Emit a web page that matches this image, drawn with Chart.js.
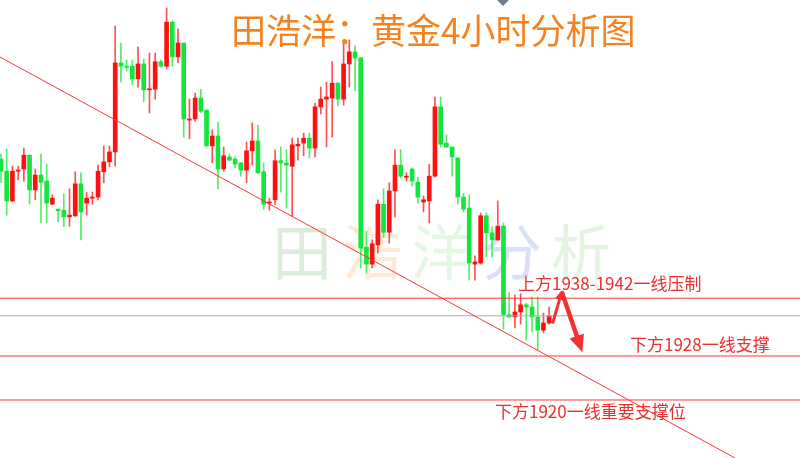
<!DOCTYPE html>
<html><head><meta charset="utf-8">
<script src="https://cdn.jsdelivr.net/npm/chart.js@4/dist/chart.umd.min.js"></script>
<style>html,body{margin:0;padding:0;background:#fff}#wrap{width:800px;height:458px;position:relative}</style>
</head><body><div id="wrap"><canvas id="c"></canvas></div>
<script>
// ---- data (gold 4h candles) ----
const opens  = [1963.8,1961.6,1956.2,1961.6,1962.0,1964.5,1958.2,1960.9,1959.8,1955.6,1954.7,1954.5,1953.3,1953.5,1959.3,1955.8,1956.7,1956.9,1961.5,1963.3,1965.1,1981.3,1980.7,1980.7,1978.4,1981.1,1976.4,1976.5,1981.5,1980.7,1988.7,1982.4,1984.9,1970.9,1971.1,1974.9,1972.7,1966.2,1968.0,1962.0,1964.2,1963.8,1963.1,1961.8,1965.3,1967.1,1961.5,1955.8,1956.4,1963.5,1963.1,1962.5,1966.2,1966.7,1967.6,1965.8,1973.3,1974.7,1974.9,1977.6,1974.7,1981.1,1983.3,1982.2,1947.8,1944.7,1948.2,1955.6,1950.5,1958.0,1962.7,1960.5,1962.0,1959.6,1956.0,1956.2,1960.7,1973.3,1966.7,1966.0,1964.0,1956.9,1954.9,1944.7,1944.9,1953.5,1950.4,1949.1,1951.6,1935.5,1935.1,1936.0,1937.3,1936.9,1935.1,1932.7,1934.0];
const highs  = [1964.7,1965.6,1962.5,1962.5,1965.8,1964.6,1962.0,1964.7,1962.9,1957.3,1954.7,1957.5,1958.4,1961.5,1961.3,1957.8,1957.8,1962.7,1966.2,1966.2,1988.0,1984.9,1981.8,1981.8,1984.2,1982.0,1983.1,1983.1,1981.8,1991.3,1988.9,1987.5,1984.9,1974.7,1975.8,1976.5,1972.8,1969.1,1970.5,1966.0,1964.7,1964.2,1963.2,1966.9,1970.4,1970.0,1963.1,1956.7,1965.5,1966.0,1965.5,1967.6,1967.6,1968.5,1968.5,1974.0,1976.9,1977.8,1981.5,1977.7,1985.5,1985.5,1984.4,1982.3,1950.7,1949.1,1956.4,1958.4,1959.5,1965.5,1965.5,1961.3,1962.2,1960.5,1957.1,1962.9,1975.1,1975.1,1968.2,1966.0,1964.0,1957.6,1957.3,1946.2,1954.0,1954.0,1951.5,1956.2,1952.2,1939.5,1939.1,1939.3,1937.6,1938.7,1938.7,1935.8,1936.9];
const lows   = [1959.5,1953.6,1956.0,1960.0,1959.8,1955.6,1956.4,1952.2,1952.2,1955.6,1952.4,1951.5,1951.6,1953.3,1949.1,1953.6,1955.6,1956.4,1959.5,1962.4,1962.5,1977.8,1979.8,1977.3,1976.9,1974.2,1972.2,1974.7,1980.5,1980.2,1980.7,1981.3,1967.8,1967.5,1970.7,1972.2,1966.1,1963.1,1958.4,1961.6,1963.5,1962.2,1960.7,1959.5,1962.7,1961.2,1954.7,1954.5,1955.5,1957.8,1954.9,1953.3,1963.6,1964.4,1964.0,1964.2,1972.0,1966.0,1967.8,1973.5,1973.6,1976.9,1976.2,1944.0,1943.1,1944.0,1946.7,1949.5,1948.5,1953.3,1960.4,1959.8,1958.9,1955.8,1954.2,1952.2,1960.5,1966.0,1966.0,1960.7,1955.6,1954.2,1941.8,1941.8,1944.7,1946.0,1946.0,1949.0,1932.9,1935.0,1933.1,1933.8,1930.9,1932.4,1929.1,1932.2,1933.8];
const closes = [1961.6,1956.2,1961.6,1961.8,1964.5,1958.2,1960.9,1959.6,1955.8,1956.7,1954.4,1953.3,1953.6,1959.3,1954.2,1956.7,1956.9,1961.6,1963.3,1965.1,1981.3,1980.7,1980.5,1978.4,1981.1,1976.4,1976.5,1981.5,1980.7,1988.7,1982.4,1984.9,1971.1,1971.1,1974.9,1972.5,1966.2,1968.0,1962.0,1964.4,1963.6,1962.9,1961.8,1965.3,1967.1,1961.3,1955.6,1956.0,1963.5,1963.1,1962.7,1966.4,1966.5,1967.6,1965.8,1973.3,1974.7,1975.1,1977.6,1974.7,1981.1,1983.3,1982.2,1947.6,1944.7,1948.4,1955.6,1950.5,1958.0,1962.7,1960.7,1960.7,1959.8,1956.9,1956.4,1960.7,1973.3,1966.5,1966.0,1964.2,1956.9,1954.7,1944.9,1945.1,1953.5,1950.4,1949.1,1951.6,1935.5,1935.1,1936.0,1937.3,1936.9,1935.1,1932.7,1934.0,1935.3];
const levels = [1938.5, 1928, 1920];
const levelLabels = ['上方1938-1942一线压制', '下方1928一线支撑', '下方1920一线重要支撑位'];
const lastPrice = 1935.3;
const trendStart = {x: -0.175, y: 1982.36};
const trendEnd = {x: 128.55, y: 1909.45};
const titleText = '田浩洋：黄金4小时分析图';
const watermarkChars = ['田', '浩', '洋', '分', '析'];

// ---- styles ----
const UP = '#ff1010', DOWN = '#12e63a', UPW = '#ff5050', DOWNW = '#50ee6a';
const isUp = i => closes[i] >= opens[i];

const bodies = opens.map((o, i) => ({x: i, y: [Math.min(o, closes[i]), Math.max(o, closes[i])]}));
const wicks = opens.map((o, i) => ({x: i, y: [lows[i], highs[i]]}));

const hline = v => [{x: -5, y: v}, {x: 150, y: v}];

const decor = {
  id: 'decor',
  beforeDatasetsDraw(chart) {
    const ctx = chart.ctx;
    ctx.save();
    const wmX = [302, 372, 441, 512, 581];
    const wmC = ['rgba(190,220,190,0.55)', 'rgba(255,205,160,0.45)', 'rgba(190,240,190,0.45)', 'rgba(170,185,240,0.45)', 'rgba(200,235,190,0.5)'];
    ctx.font = '60px "Noto Sans CJK SC"';
    ctx.textAlign = 'center';
    ctx.textBaseline = 'middle';
    watermarkChars.forEach((ch, k) => { ctx.fillStyle = wmC[k]; ctx.fillText(ch, wmX[k], 252); });
    ctx.restore();
  },
  afterDatasetsDraw(chart) {
    const ctx = chart.ctx, xs = chart.scales.x, ys = chart.scales.y;
    ctx.save();
    ctx.font = '35px "Noto Sans CJK SC"';
    ctx.fillStyle = '#f5821f';
    ctx.textAlign = 'left';
    ctx.textBaseline = 'middle';
    ctx.fillText(titleText, 231, 31);
    ctx.fillStyle = '#6f7e8e';
    ctx.beginPath(); ctx.moveTo(497, 0); ctx.lineTo(509, 0); ctx.lineTo(503, 6); ctx.closePath(); ctx.fill();
    ctx.font = '17px "Noto Sans CJK SC"';
    ctx.fillStyle = '#e8302e';
    const lx = [518, 630, 495], dy = [-15, -11, 12];
    levels.forEach((v, k) => ctx.fillText(levelLabels[k], lx[k], ys.getPixelForValue(v) + dy[k]));
    const arrow = (a, b, shaft, hl, hw) => {
      const x0 = xs.getPixelForValue(a[0]), y0 = ys.getPixelForValue(a[1]);
      const x1 = xs.getPixelForValue(b[0]), y1 = ys.getPixelForValue(b[1]);
      const ang = Math.atan2(y1 - y0, x1 - x0), len = Math.hypot(x1 - x0, y1 - y0);
      ctx.save(); ctx.translate(x0, y0); ctx.rotate(ang);
      ctx.fillStyle = '#f23232';
      ctx.beginPath();
      ctx.moveTo(0, -shaft / 2); ctx.lineTo(len - hl, -shaft / 2); ctx.lineTo(len - hl, -hw / 2);
      ctx.lineTo(len, 0); ctx.lineTo(len - hl, hw / 2); ctx.lineTo(len - hl, shaft / 2); ctx.lineTo(0, shaft / 2);
      ctx.closePath(); ctx.fill(); ctx.restore();
    };
    arrow([96.6, 1933.9], [98.3, 1940.0], 3, 10, 9);
    arrow([98.2, 1939.7], [101.8, 1928.7], 4.5, 17, 15);
    ctx.restore();
  }
};

new Chart(document.getElementById('c'), {
  type: 'bar',
  data: {
    datasets: [
      {type: 'line', data: [trendStart, trendEnd], borderColor: '#ff3535', borderWidth: 1, pointRadius: 0, order: 0},
      {type: 'line', data: hline(levels[0]), borderColor: '#ff3535', borderWidth: 1, pointRadius: 0, order: 0},
      {type: 'line', data: hline(levels[1]), borderColor: '#ff3535', borderWidth: 1, pointRadius: 0, order: 0},
      {type: 'line', data: hline(levels[2]), borderColor: '#ff3535', borderWidth: 1, pointRadius: 0, order: 0},
      {type: 'line', data: hline(lastPrice), borderColor: '#a4acb4', borderWidth: 1, pointRadius: 0, order: 0},
      {data: bodies, backgroundColor: opens.map((o, i) => isUp(i) ? UP : DOWN), barThickness: 4, minBarLength: 1, grouped: false, order: 1},
      {data: wicks, backgroundColor: opens.map((o, i) => isUp(i) ? UPW : DOWNW), barThickness: 1, minBarLength: 1, grouped: false, order: 2}
    ]
  },
  options: {
    responsive: true, maintainAspectRatio: false, animation: false,
    layout: {padding: 0},
    plugins: {legend: {display: false}, tooltip: {enabled: false}},
    scales: {
      x: {type: 'linear', min: -0.175, max: 139.93, display: false, offset: false},
      y: {min: 1909.45, max: 1992.73, display: false}
    }
  },
  plugins: [decor]
});
</script></body></html>
